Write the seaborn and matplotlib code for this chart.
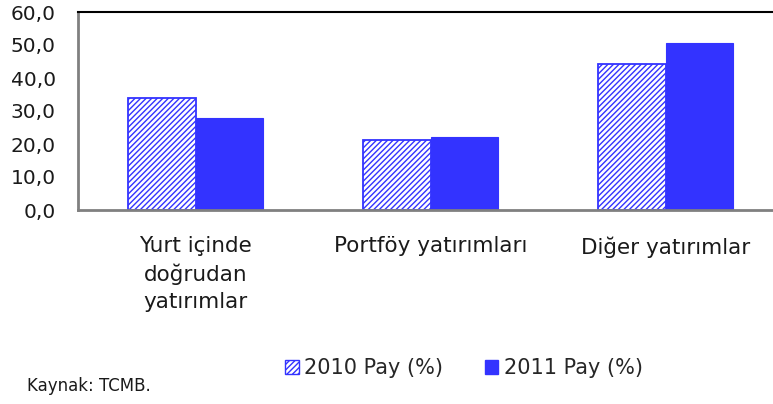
import numpy as np
import pandas as pd
import seaborn as sns
import matplotlib.pyplot as plt
from matplotlib.patches import Patch

# data
categories = ['Yurt içinde\ndoğrudan\nyatırımlar', 'Portföy yatırımları', 'Diğer yatırımlar']
pay_2010 = [33.9, 21.2, 44.3]
pay_2011 = [27.8, 22.0, 50.7]
series = ['2010 Pay (%)', '2011 Pay (%)']

df = pd.DataFrame({
    'kategori': categories * 2,
    'pay': pay_2010 + pay_2011,
    'seri': [series[0]] * 3 + [series[1]] * 3,
})

sns.set_style('white')
plt.rcParams['font.family'] = ['DejaVu Sans']
plt.rcParams['hatch.linewidth'] = 1.0

blue = '#3333FF'
fig = plt.figure(figsize=(7.73, 4.04), dpi=100)
ax = fig.add_axes([78 / 773, 1 - 210 / 404, 705 / 773, 198 / 404])

sns.barplot(data=df, x='kategori', y='pay', hue='seri', order=categories,
            hue_order=series, palette=[blue, blue], width=0.578,
            saturation=1, legend=False, ax=ax)

# first series: hatched, white fill
for bar in ax.containers[0]:
    bar.set_facecolor('white')
    bar.set_edgecolor(blue)
    bar.set_hatch('//////')
    bar.set_linewidth(1.3)
for bar in ax.containers[1]:
    bar.set_edgecolor(blue)
    bar.set_linewidth(0.8)

ax.set_xlim(-0.5, 2.5)
ax.set_ylim(0, 60)
ax.set_yticks(np.arange(0, 61, 10))
ax.set_yticklabels([f'{v:.1f}'.replace('.', ',') for v in np.arange(0, 61, 10)])
ax.set_xlabel('')
ax.set_ylabel('')
ax.tick_params(axis='both', length=0, colors='#1a1a1a')
ax.tick_params(axis='y', labelsize=14.5, pad=16)
ax.tick_params(axis='x', labelsize=15.5, pad=19)
for lbl in ax.get_xticklabels():
    lbl.set_linespacing(1.42)

ax.spines['top'].set_color('black')
ax.spines['top'].set_linewidth(1.5)
ax.spines['left'].set_color('#808080')
ax.spines['left'].set_linewidth(2)
ax.spines['bottom'].set_color('#808080')
ax.spines['bottom'].set_linewidth(2)
ax.spines['right'].set_visible(False)

handles = [Patch(facecolor='white', edgecolor=blue, hatch='//////', label=series[0]),
           Patch(facecolor=blue, edgecolor=blue, label=series[1])]
fig.legend(handles=handles, loc='center', bbox_to_anchor=(464 / 773, 1 - 368 / 404),
           ncol=2, frameon=False, fontsize=15, handlelength=0.65, handleheight=0.65,
           handletextpad=0.25, columnspacing=2.0)

fig.text(27 / 773, 1 - 386 / 404, 'Kaynak: TCMB.', fontsize=12, va='center',
         color='#1a1a1a')

fig.savefig('out.png', dpi=100)
